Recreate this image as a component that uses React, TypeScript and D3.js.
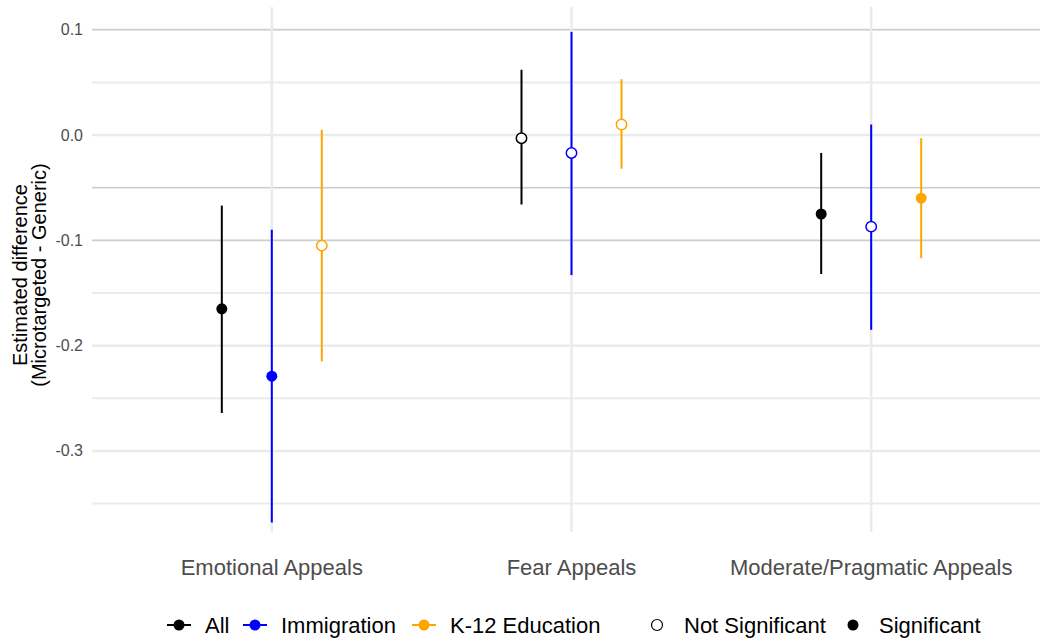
import * as d3 from "d3";

const categories = ["Emotional Appeals", "Fear Appeals", "Moderate/Pragmatic Appeals"];
const groups = ["All", "Immigration", "K-12 Education"];
const colors = ["#000000", "#0000ff", "#ffa500"];

// estimate, low, high, significant — one array per group, ordered like categories
const allEst = [-0.165, -0.003, -0.075];
const allLo = [-0.264, -0.066, -0.132];
const allHi = [-0.067, 0.062, -0.017];
const allSig = [true, false, true];

const immEst = [-0.229, -0.017, -0.087];
const immLo = [-0.368, -0.133, -0.185];
const immHi = [-0.090, 0.098, 0.010];
const immSig = [true, false, false];

const eduEst = [-0.105, 0.010, -0.060];
const eduLo = [-0.215, -0.032, -0.117];
const eduHi = [0.005, 0.053, -0.003];
const eduSig = [false, false, true];

const yTicks = [0.1, 0.0, -0.1, -0.2, -0.3];
const yMinor = [0.05, -0.05, -0.15, -0.25, -0.35];
const darkLines = [0.1, -0.05, -0.1];

const series = [
  { est: allEst, lo: allLo, hi: allHi, sig: allSig },
  { est: immEst, lo: immLo, hi: immHi, sig: immSig },
  { est: eduEst, lo: eduLo, hi: eduHi, sig: eduSig },
];

const W = 1040, H = 638;
const top = 7, bottom = 532, left = 92;

const x = d3.scalePoint().domain(categories).range([left, 1051]).padding(0.6);
const dodge = d3.scalePoint().domain(groups).range([-50, 50]);
const y = d3.scaleLinear().domain([-0.377, 0.1216]).range([bottom, top]);
const fmt = (v: number) => d3.format(".1f")(v).replace("\u2212", "-");

export default function App() {
  const font = "'Liberation Sans', Arial, sans-serif";
  return (
    <svg width={W} height={H} style={{ position: "absolute", left: 0, top: 0, background: "#fff" }} fontFamily={font}>
      {/* grid */}
      {yMinor.map((v) => (
        <line key={"mn" + v} x1={left} x2={W} y1={y(v)} y2={y(v)} stroke="#ebebeb" strokeWidth={2} />
      ))}
      {yTicks.map((v) => (
        <line key={"mj" + v} x1={left} x2={W} y1={y(v)} y2={y(v)} stroke="#ebebeb" strokeWidth={2.5} />
      ))}
      {darkLines.map((v) => (
        <line key={"dk" + v} x1={left} x2={W} y1={y(v)} y2={y(v)} stroke="#c6c6c6" strokeWidth={1} />
      ))}
      {categories.map((c) => (
        <line key={"v" + c} x1={x(c)} x2={x(c)} y1={top} y2={bottom} stroke="#ebebeb" strokeWidth={2.5} />
      ))}

      {/* y ticks */}
      {yTicks.map((v) => (
        <text key={"t" + v} x={83} y={y(v)} textAnchor="end" dominantBaseline="central" fontSize={16} fill="#4d4d4d">
          {fmt(v)}
        </text>
      ))}

      {/* y title */}
      <g transform={`translate(20,275) rotate(-90)`}>
        <text textAnchor="middle" dominantBaseline="central" fontSize={20} fill="#000">Estimated difference</text>
      </g>
      <g transform={`translate(39,275) rotate(-90)`}>
        <text textAnchor="middle" dominantBaseline="central" fontSize={20} fill="#000">(Microtargeted - Generic)</text>
      </g>

      {/* x labels */}
      {categories.map((c) => (
        <text key={"xl" + c} x={x(c)} y={567} textAnchor="middle" dominantBaseline="central" fontSize={22} fill="#4d4d4d">
          {c}
        </text>
      ))}

      {/* error bars and points */}
      {series.map((s, gi) =>
        categories.map((c, ci) => {
          const cx = (x(c) as number) + (dodge(groups[gi]) as number);
          return (
            <g key={gi + "-" + ci}>
              <line x1={cx} x2={cx} y1={y(s.lo[ci])} y2={y(s.hi[ci])} stroke={colors[gi]} strokeWidth={2} />
              {s.sig[ci] ? (
                <circle cx={cx} cy={y(s.est[ci])} r={5.5} fill={colors[gi]} />
              ) : (
                <circle cx={cx} cy={y(s.est[ci])} r={5.2} fill="#fff" stroke={colors[gi]} strokeWidth={1.5} />
              )}
            </g>
          );
        })
      )}

      {/* legend */}
      {groups.map((g, i) => {
        const lx = [167, 243, 412][i];
        return (
          <g key={"lg" + g}>
            <line x1={lx} x2={lx + 24} y1={625} y2={625} stroke={colors[i]} strokeWidth={2} />
            <circle cx={lx + 12} cy={625} r={5.5} fill={colors[i]} />
            <text x={lx + 38} y={625} dominantBaseline="central" fontSize={22} fill="#000">{g}</text>
          </g>
        );
      })}
      <circle cx={657} cy={625} r={5.5} fill="#fff" stroke="#000" strokeWidth={1.2} />
      <text x={684} y={625} dominantBaseline="central" fontSize={22} fill="#000">Not Significant</text>
      <circle cx={853} cy={625} r={5.5} fill="#000" />
      <text x={879} y={625} dominantBaseline="central" fontSize={22} fill="#000">Significant</text>
    </svg>
  );
}
